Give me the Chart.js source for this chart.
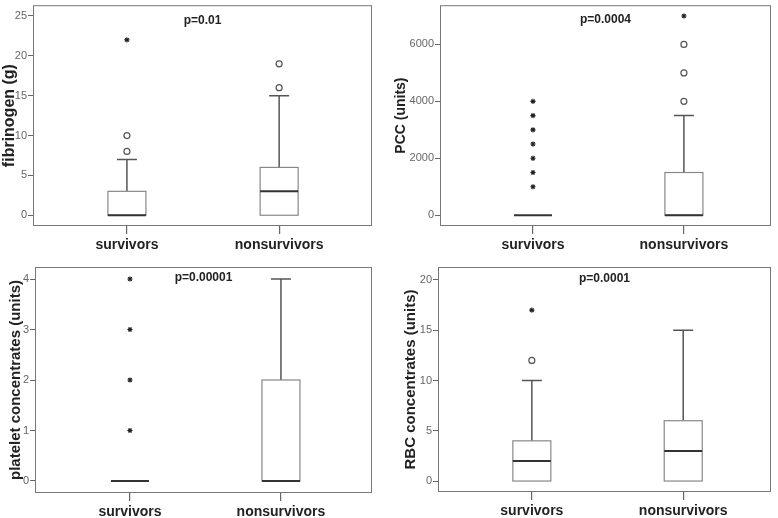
<!DOCTYPE html>
<html>
<head>
<meta charset="utf-8">
<script src="https://cdn.jsdelivr.net/npm/chart.js@4.4.0/dist/chart.umd.min.js"></script>
<style>
body{margin:0;background:#fff;width:778px;height:518px;position:relative;overflow:hidden}
.p{position:absolute;width:389px;height:259px}
</style>
</head>
<body>
<div class="p" style="left:0;top:0"><canvas id="c1"></canvas></div>
<div class="p" style="left:389px;top:0"><canvas id="c2"></canvas></div>
<div class="p" style="left:0;top:259px"><canvas id="c3"></canvas></div>
<div class="p" style="left:389px;top:259px"><canvas id="c4"></canvas></div>
<script>
const groups = ['survivors', 'nonsurvivors'];

// fibrinogen (g)
const fibQ1 = [0, 0];
const fibMedian = [0, 3];
const fibQ3 = [3, 6];
const fibLow = [0, 0];
const fibHigh = [7, 15];
const fibCircles = [[8, 10], [16, 19]];
const fibStars = [[22], []];
const fibTicks = [0, 5, 10, 15, 20, 25];

// PCC (units)
const pccQ1 = [0, 0];
const pccMedian = [0, 0];
const pccQ3 = [0, 1500];
const pccLow = [0, 0];
const pccHigh = [0, 3500];
const pccCircles = [[], [4000, 5000, 6000]];
const pccStars = [[1000, 1500, 2000, 2500, 3000, 3500, 4000], [7000]];
const pccTicks = [0, 2000, 4000, 6000];

// platelet concentrates (units)
const pltQ1 = [0, 0];
const pltMedian = [0, 0];
const pltQ3 = [0, 2];
const pltLow = [0, 0];
const pltHigh = [0, 4];
const pltCircles = [[], []];
const pltStars = [[1, 2, 3, 4], []];
const pltTicks = [0, 1, 2, 3, 4];

// RBC concentrates (units)
const rbcQ1 = [0, 0];
const rbcMedian = [2, 3];
const rbcQ3 = [4, 6];
const rbcLow = [0, 0];
const rbcHigh = [10, 15];
const rbcCircles = [[12], []];
const rbcStars = [[17], []];
const rbcTicks = [0, 5, 10, 15, 20];

const FONT = "'Liberation Sans', Arial, sans-serif";
const W = 389, H = 259;

// draws frame, boxes, whiskers and medians from the chart scales
const boxPlugin = {
  id: 'boxplot',
  beforeDatasetsDraw(chart, args, o) {
    const ctx = chart.ctx, a = chart.chartArea;
    const xs = chart.scales.x, ys = chart.scales.y;
    ctx.save();
    ctx.strokeStyle = '#777';
    ctx.lineWidth = 1;
    ctx.strokeRect(a.left + 0.5, a.top + 0.5, a.right - a.left - 1, a.bottom - a.top - 1);
    o.q1.forEach((q1, i) => {
      const cx = xs.getPixelForValue(i);
      const hw = 19, cw = 10;
      const yq1 = ys.getPixelForValue(q1), yq3 = ys.getPixelForValue(o.q3[i]);
      const ymed = ys.getPixelForValue(o.median[i]);
      const ylo = ys.getPixelForValue(o.low[i]), yhi = ys.getPixelForValue(o.high[i]);
      ctx.strokeStyle = '#555';
      ctx.lineWidth = 1.5;
      if (o.high[i] > o.q3[i]) {
        ctx.beginPath();
        ctx.moveTo(cx, yq3); ctx.lineTo(cx, yhi);
        ctx.moveTo(cx - cw, yhi); ctx.lineTo(cx + cw, yhi);
        ctx.stroke();
      }
      if (o.low[i] < q1) {
        ctx.beginPath();
        ctx.moveTo(cx, yq1); ctx.lineTo(cx, ylo);
        ctx.moveTo(cx - cw, ylo); ctx.lineTo(cx + cw, ylo);
        ctx.stroke();
      }
      if (o.q3[i] > q1) {
        ctx.fillStyle = '#fff';
        ctx.fillRect(cx - hw, yq3, hw * 2, yq1 - yq3);
        ctx.strokeStyle = '#888';
        ctx.lineWidth = 1.2;
        ctx.strokeRect(cx - hw, yq3, hw * 2, yq1 - yq3);
      }
      ctx.strokeStyle = '#333';
      ctx.lineWidth = 2;
      ctx.beginPath();
      ctx.moveTo(cx - hw, ymed); ctx.lineTo(cx + hw, ymed);
      ctx.stroke();
    });
    ctx.restore();
  },
  afterDraw(chart, args, o) {
    const ctx = chart.ctx, a = chart.chartArea;
    ctx.save();
    ctx.font = 'bold 12px ' + FONT;
    ctx.fillStyle = '#222';
    ctx.textAlign = 'center';
    ctx.textBaseline = 'middle';
    ctx.fillText(o.pText, (a.left + a.right) / 2, a.top + o.pOffset);
    ctx.restore();
  }
};

function points(list) {
  const out = [];
  list.forEach((vals, i) => vals.forEach(v => out.push({ x: i, y: v })));
  return out;
}

function makePanel(id, p) {
  new Chart(document.getElementById(id), {
    type: 'scatter',
    data: {
      datasets: [
        { data: points(p.circles), pointStyle: 'circle', radius: 3, borderColor: '#555', backgroundColor: '#fff', borderWidth: 1.2 },
        { data: points(p.stars), pointStyle: 'star', radius: 2.6, borderColor: '#222', backgroundColor: '#222', borderWidth: 1.1 }
      ]
    },
    options: {
      responsive: true,
      maintainAspectRatio: false,
      animation: false,
      layout: { padding: { left: 0, top: p.top, right: W - p.right, bottom: 0 } },
      plugins: {
        legend: { display: false },
        tooltip: { enabled: false },
        boxplot: { q1: p.q1, median: p.median, q3: p.q3, low: p.low, high: p.high, pText: p.pText, pOffset: p.pOffset }
      },
      scales: {
        x: {
          type: 'linear', min: p.xMin, max: p.xMax,
          afterBuildTicks: s => { s.ticks = groups.map((g, i) => ({ value: i })); },
          afterFit: s => { s.height = H - p.bottom; s.paddingLeft = 0; s.paddingRight = 0; },
          grid: { drawOnChartArea: false, tickLength: 8, color: '#666', lineWidth: 1.2 },
          border: { display: false },
          ticks: { callback: v => groups[v], font: { size: 14, weight: 'bold', family: FONT }, color: '#222', padding: 3, maxRotation: 0, autoSkip: false }
        },
        y: {
          type: 'linear', min: p.yMin, max: p.yMax,
          afterBuildTicks: s => { s.ticks = p.ticks.map(v => ({ value: v })); },
          afterFit: s => { s.width = p.left; s.paddingTop = 0; s.paddingBottom = 0; },
          grid: { drawOnChartArea: false, tickLength: 5, color: '#666' },
          border: { display: false },
          ticks: { callback: v => String(v), font: { size: 11, family: FONT }, color: '#666', padding: 1 },
          title: { display: true, text: p.title, font: { size: p.titleSize, weight: 'bold', family: FONT }, color: '#222', padding: { top: p.titlePad, bottom: 0 } }
        }
      }
    },
    plugins: [boxPlugin]
  });
}

makePanel('c1', {
  q1: fibQ1, median: fibMedian, q3: fibQ3, low: fibLow, high: fibHigh,
  circles: fibCircles, stars: fibStars, ticks: fibTicks,
  title: 'fibrinogen (g)', titleSize: 16, titlePad: 0, pText: 'p=0.01', pOffset: 15,
  left: 33, right: 372, top: 1, bottom: 226, yMin: -1.35, yMax: 26.35, xMin: -0.617, xMax: 1.61
});
makePanel('c2', {
  q1: pccQ1, median: pccMedian, q3: pccQ3, low: pccLow, high: pccHigh,
  circles: pccCircles, stars: pccStars, ticks: pccTicks,
  title: 'PCC (units)', titleSize: 14, titlePad: 4, pText: 'p=0.0004', pOffset: 14,
  left: 51, right: 382, top: 1, bottom: 226, yMin: -380, yMax: 7380, xMin: -0.616, xMax: 1.577
});
makePanel('c3', {
  q1: pltQ1, median: pltMedian, q3: pltQ3, low: pltLow, high: pltHigh,
  circles: pltCircles, stars: pltStars, ticks: pltTicks,
  title: 'platelet concentrates (units)', titleSize: 15, titlePad: 7, pText: 'p=0.00001', pOffset: 11,
  left: 35, right: 372, top: 8, bottom: 234, yMin: -0.238, yMax: 4.238, xMin: -0.629, xMax: 1.603
});
makePanel('c4', {
  q1: rbcQ1, median: rbcMedian, q3: rbcQ3, low: rbcLow, high: rbcHigh,
  circles: rbcCircles, stars: rbcStars, ticks: rbcTicks,
  title: 'RBC concentrates (units)', titleSize: 15, titlePad: 13, pText: 'p=0.0001', pOffset: 12,
  left: 49, right: 382, top: 8, bottom: 233, yMin: -1.09, yMax: 21.29, xMin: -0.62, xMax: 1.58
});
</script>
</body>
</html>
